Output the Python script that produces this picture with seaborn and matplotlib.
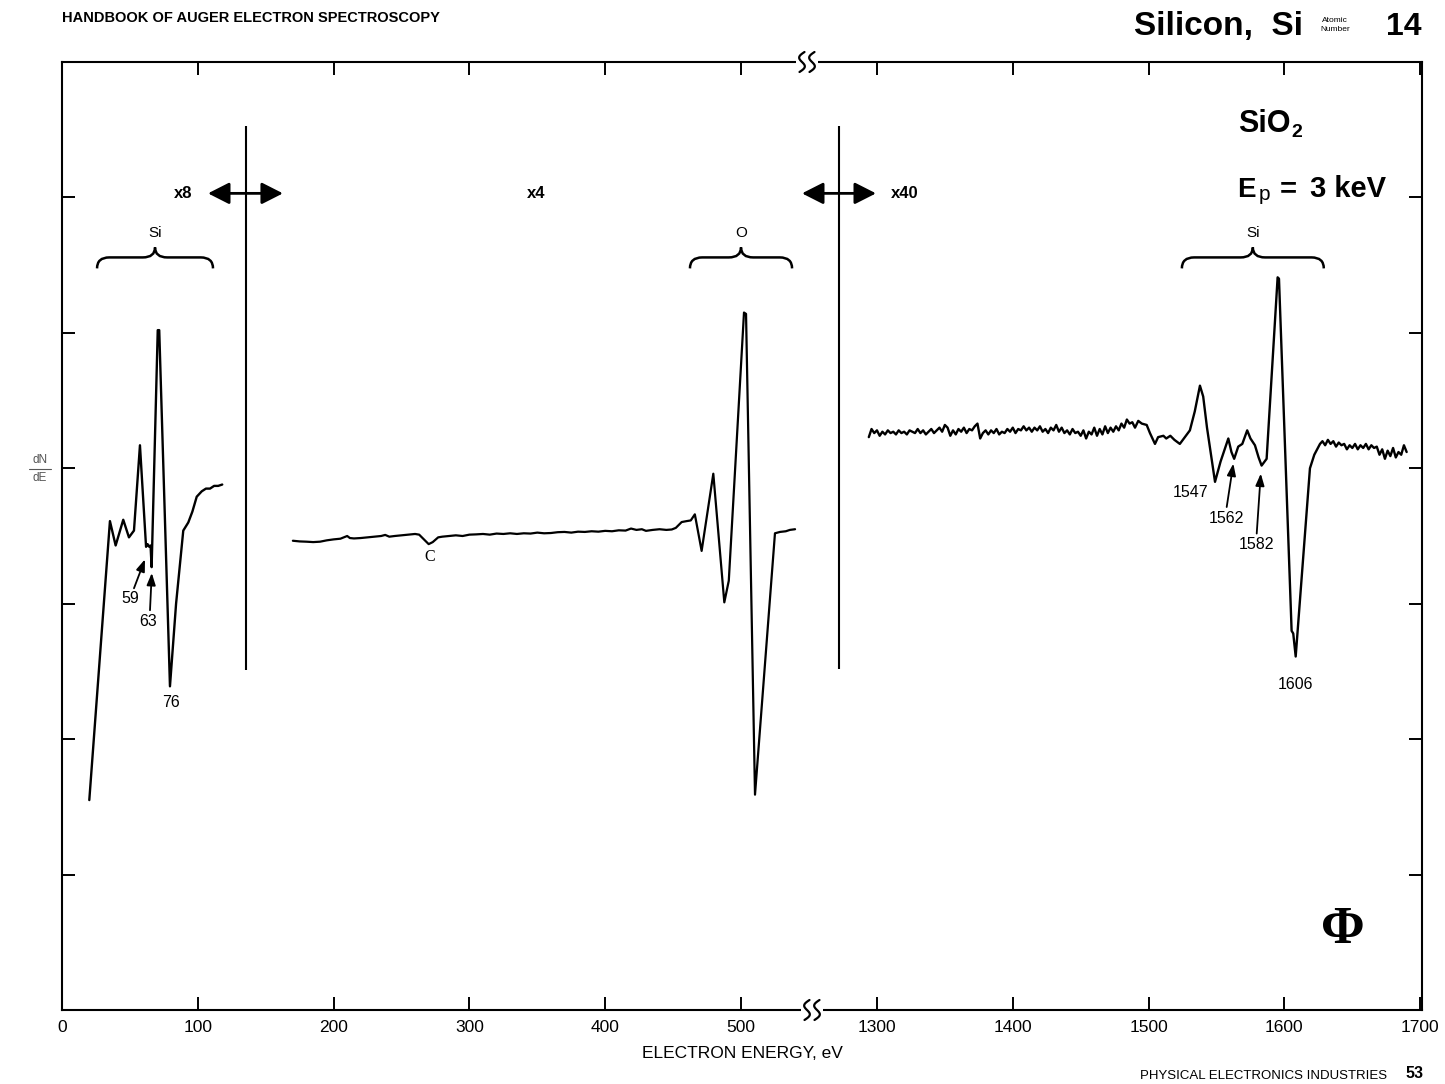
import numpy as np
import matplotlib
matplotlib.use("Agg")
import matplotlib.pyplot as plt
import seaborn as sns
from matplotlib.path import Path
from matplotlib.patches import PathPatch, FancyArrowPatch, Rectangle
from matplotlib.lines import Line2D

# Si LVV region (x8)
e_low = [20.1, 35.3, 39.5, 45.1, 49.3, 53.0, 57.4, 61.9, 63.0, 64.3, 65.2, 66.0,
         70.5, 71.6, 79.5, 84.0, 89.3, 93.0, 96.0, 99.2, 102.9, 106.0, 109.0,
         112.0, 115.0, 118.0]
v_low = [1.55, 3.61, 3.43, 3.62, 3.49, 3.54, 4.17, 3.42, 3.44, 3.42, 3.43, 3.27,
         5.02, 5.02, 2.39, 3.00, 3.54, 3.60, 3.68, 3.79, 3.83, 3.85, 3.85,
         3.87, 3.87, 3.88]

# C and O KLL region (x4)
e_mid = [170, 175, 180, 185, 190, 195, 200, 205, 210, 212, 215, 220, 225, 230,
         235, 238, 241, 245, 250, 255, 260, 263, 267, 270, 273, 277, 280, 285,
         290, 295, 300, 305, 310, 315, 320, 325, 330, 335, 340, 345, 350, 355,
         360, 365, 370, 375, 380, 385, 390, 395, 400, 405, 410, 415, 419, 423,
         427, 430, 435, 440, 445, 449, 452, 456.3, 460, 463, 466, 471, 479.6,
         487.7, 491, 502.2, 503.7, 510.3, 525, 528.7, 533, 536, 539.8]
v_mid = [3.465, 3.46, 3.458, 3.455, 3.458, 3.468, 3.475, 3.48, 3.50, 3.485,
         3.482, 3.485, 3.49, 3.495, 3.50, 3.508, 3.495, 3.50, 3.505, 3.51, 3.515,
         3.51, 3.47, 3.44, 3.455, 3.49, 3.495, 3.50, 3.505, 3.50, 3.51, 3.512,
         3.515, 3.51, 3.518, 3.515, 3.52, 3.515, 3.52, 3.518, 3.525, 3.52, 3.522,
         3.528, 3.53, 3.525, 3.532, 3.53, 3.535, 3.532, 3.538, 3.535, 3.542, 3.54,
         3.555, 3.545, 3.55, 3.538, 3.545, 3.55, 3.545, 3.548, 3.56, 3.603, 3.61,
         3.615, 3.66, 3.39, 3.96, 3.01, 3.17, 5.15, 5.14, 1.59, 3.52, 3.53, 3.535,
         3.545, 3.55]

# Si KLL region (x40): baseline read on a 2 eV grid, then the peaks
e_base = np.arange(1294, 1491, 2)
v_base = [4.23, 4.29, 4.26, 4.28, 4.24, 4.27, 4.25, 4.28, 4.26, 4.27,
          4.25, 4.28, 4.26, 4.27, 4.25, 4.28, 4.27, 4.26, 4.29, 4.26,
          4.28, 4.25, 4.27, 4.29, 4.26, 4.28, 4.30, 4.27, 4.32, 4.30,
          4.24, 4.28, 4.25, 4.29, 4.27, 4.30, 4.26, 4.29, 4.28, 4.31,
          4.33, 4.22, 4.26, 4.28, 4.25, 4.28, 4.26, 4.29, 4.25, 4.27,
          4.26, 4.29, 4.27, 4.30, 4.26, 4.29, 4.28, 4.31, 4.28, 4.30,
          4.27, 4.30, 4.28, 4.31, 4.27, 4.29, 4.26, 4.30, 4.28, 4.32,
          4.27, 4.30, 4.26, 4.28, 4.25, 4.29, 4.26, 4.27, 4.24, 4.28,
          4.22, 4.27, 4.25, 4.30, 4.24, 4.29, 4.25, 4.31, 4.26, 4.30,
          4.27, 4.31, 4.28, 4.33, 4.30, 4.36, 4.33, 4.34, 4.30]
e_kll = [1492.4, 1495, 1498.6, 1501, 1504.7, 1507, 1510.9, 1513, 1516, 1519,
         1523, 1526, 1530.4, 1534, 1537.8, 1540.2, 1543, 1548.9, 1553, 1558.7,
         1561, 1563, 1566, 1569, 1572.6, 1575, 1578.3, 1581, 1583.2, 1586.9,
         1595, 1596, 1605.3, 1606.5, 1608.3, 1618.8, 1622, 1626.2]
v_kll = [4.35, 4.33, 4.32, 4.26, 4.18, 4.23, 4.24, 4.22, 4.24, 4.21,
         4.18, 4.22, 4.28, 4.42, 4.61, 4.53, 4.30, 3.90, 4.05, 4.22,
         4.12, 4.07, 4.16, 4.18, 4.28, 4.22, 4.17, 4.08, 4.02, 4.07,
         5.41, 5.40, 2.80, 2.78, 2.61, 4.00, 4.10, 4.18]
e_tail = np.arange(1628, 1691, 2)
v_tail = [4.20, 4.17, 4.21, 4.18, 4.20, 4.16, 4.19, 4.17, 4.18, 4.14,
          4.17, 4.15, 4.18, 4.14, 4.17, 4.15, 4.18, 4.14, 4.17, 4.15,
          4.16, 4.10, 4.14, 4.07, 4.13, 4.09, 4.15, 4.08, 4.12, 4.10,
          4.17, 4.12]

e_high = np.concatenate([e_base, e_kll, e_tail])
v_high = np.concatenate([v_base, v_kll, v_tail])

low_ticks = [0, 100, 200, 300, 400, 500]
high_ticks = [1300, 1400, 1500, 1600, 1700]

sns.set_style("ticks", {"axes.edgecolor": "k", "xtick.color": "k",
                        "ytick.color": "k", "text.color": "k"})
plt.rcParams['font.family'] = ['Liberation Sans', 'DejaVu Sans']

W, H = 1445, 1084


def fx(px):
    return px / W


def fy(py):
    return 1 - py / H


fig = plt.figure(figsize=(W / 100, H / 100), dpi=100)
axL = fig.add_axes([fx(62), fy(1010), fx(810) - fx(62), fy(62) - fy(1010)])
axR = fig.add_axes([fx(810), fy(1010), fx(1422) - fx(810), fy(62) - fy(1010)])

sns.lineplot(x=e_low, y=v_low, ax=axL, color='k', lw=1.7, sort=False, estimator=None)
sns.lineplot(x=e_mid, y=v_mid, ax=axL, color='k', lw=1.6, sort=False, estimator=None)
sns.lineplot(x=e_high, y=v_high, ax=axR, color='k', lw=1.7, sort=False, estimator=None)

axL.set_xlim(0, 550.8)
axR.set_xlim(1250.7, 1701.3)
axL.set_xticks(low_ticks)
axR.set_xticks(high_ticks)
for ax in (axL, axR):
    ax.set_ylim(0, 7)
    ax.set_yticks([1, 2, 3, 4, 5, 6])
    ax.set_xlabel('')
    ax.set_ylabel('')
    ax.tick_params(direction='in', length=9.5, width=1.4, top=True,
                   labelsize=12.5, pad=7)
    for s in ax.spines.values():
        s.set_linewidth(1.5)
axL.spines['right'].set_visible(False)
axR.spines['left'].set_visible(False)
axL.tick_params(axis='y', left=True, right=False, labelleft=False)
axR.tick_params(axis='y', left=False, right=True, labelleft=False, labelright=False)

# gain change markers
axL.vlines(135.5, 2.51, 6.53, color='k', lw=1.5)
axR.vlines(1272, 2.52, 6.53, color='k', lw=1.5)
astyle = '<|-|>,head_length=0.65,head_width=0.33'
axL.add_patch(FancyArrowPatch((107.5, 6.03), (162.7, 6.03), arrowstyle=astyle,
                              mutation_scale=20, lw=2, color='k',
                              shrinkA=0, shrinkB=0))
axR.add_patch(FancyArrowPatch((1244.8, 6.03), (1299.3, 6.03), arrowstyle=astyle,
                              mutation_scale=20, lw=2, color='k',
                              shrinkA=0, shrinkB=0, clip_on=False))
axL.text(89, 6.03, 'x8', ha='center', va='center', fontsize=12, weight='bold')
axL.text(349, 6.03, 'x4', ha='center', va='center', fontsize=12, weight='bold')
axR.text(1320.6, 6.03, 'x40', ha='center', va='center', fontsize=12, weight='bold')


def brace(ax, x0, x1, label, y_end=5.476, y_flat=5.557, y_tip=5.631, r=9):
    xc = (x0 + x1) / 2
    verts = [(x0, y_end), (x0, y_flat), (x0 + r, y_flat),
             (xc - r, y_flat), (xc, y_flat), (xc, y_tip),
             (xc, y_flat), (xc + r, y_flat),
             (x1 - r, y_flat), (x1, y_flat), (x1, y_end)]
    codes = [Path.MOVETO, Path.CURVE3, Path.CURVE3,
             Path.LINETO, Path.CURVE3, Path.CURVE3,
             Path.CURVE3, Path.CURVE3,
             Path.LINETO, Path.CURVE3, Path.CURVE3]
    ax.add_patch(PathPatch(Path(verts, codes), fc='none', ec='k', lw=1.8,
                           clip_on=False))
    ax.text(xc, 5.734, label, ha='center', va='center', fontsize=11)


brace(axL, 25.8, 111.2, 'Si')
brace(axL, 462.4, 537.6, 'O')
brace(axR, 1524.5, 1629, 'Si')

# peak labels
aprops = dict(arrowstyle='-|>,head_length=0.6,head_width=0.22', color='k',
              lw=1.3, mutation_scale=12, shrinkA=0, shrinkB=0)
axL.text(50.1, 3.04, '59', ha='center', va='center', fontsize=11.5)
axL.annotate('', xy=(61.1, 3.328), xytext=(53.0, 3.114), arrowprops=aprops)
axL.text(63.3, 2.871, '63', ha='center', va='center', fontsize=11.5)
axL.annotate('', xy=(66.1, 3.227), xytext=(64.8, 2.952), arrowprops=aprops)
axL.text(80.3, 2.273, '76', ha='center', va='center', fontsize=11.5)
axL.text(271, 3.343, 'C', ha='center', va='center', fontsize=11.5,
         family=['Liberation Serif', 'DejaVu Serif'])
axR.text(1531.2, 3.823, '1547', ha='center', va='center', fontsize=11.5)
axR.text(1557, 3.631, '1562', ha='center', va='center', fontsize=11.5)
axR.annotate('', xy=(1562.4, 4.035), xytext=(1557.5, 3.714), arrowprops=aprops)
axR.text(1579.1, 3.439, '1582', ha='center', va='center', fontsize=11.5)
axR.annotate('', xy=(1582.6, 3.961), xytext=(1579.6, 3.518), arrowprops=aprops)
axR.text(1607.8, 2.406, '1606', ha='center', va='center', fontsize=11.5)

# axis break symbols
for bx, by in [(807, 62), (812, 1010)]:
    fig.add_artist(Rectangle((fx(bx - 11), fy(by + 4)), 22 / W, 8 / H,
                             transform=fig.transFigure, fc='white', ec='none',
                             zorder=5))
    t = np.linspace(0, 1, 40)
    for off in (-5, 5):
        xs = bx + off - 4 * np.sin(2 * np.pi * t) + (0.5 - t) * 5
        ys = by - 10 + 20 * t
        fig.add_artist(Line2D(fx(xs), fy(ys), color='k', lw=1.6,
                              transform=fig.transFigure, zorder=6))

# texts around the frame
fig.text(fx(742), fy(1053), 'ELECTRON ENERGY, eV', ha='center', va='center',
         fontsize=12.5)
fig.text(fx(40), fy(460), 'dN', ha='center', va='center', fontsize=8.5,
         color='#555555')
fig.add_artist(Line2D([fx(29), fx(51)], [fy(469), fy(469)], color='#555555',
                      lw=0.8, transform=fig.transFigure))
fig.text(fx(40), fy(478), 'dE', ha='center', va='center', fontsize=8.5,
         color='#555555')

fig.text(fx(62), fy(18), 'HANDBOOK OF AUGER ELECTRON SPECTROSCOPY', ha='left',
         va='center', fontsize=10.5, weight='bold')
fig.text(fx(1303), fy(35), 'Silicon,  Si', ha='right', va='baseline',
         fontsize=24, weight='bold')
fig.text(fx(1335), fy(20), 'Atomic', ha='center', va='center', fontsize=6)
fig.text(fx(1335), fy(29.5), 'Number', ha='center', va='center', fontsize=6)
fig.text(fx(1422), fy(35), '14', ha='right', va='baseline', fontsize=23,
         weight='bold')

fig.text(fx(1238), fy(132), 'SiO', ha='left', va='baseline', fontsize=22,
         weight='bold')
fig.text(fx(1291), fy(137), '2', ha='left', va='baseline', fontsize=14,
         weight='bold')
fig.text(fx(1237), fy(197), 'E', ha='left', va='baseline', fontsize=20,
         weight='bold')
fig.text(fx(1259), fy(200), 'p', ha='left', va='baseline', fontsize=15)
fig.text(fx(1280), fy(197), '=', ha='left', va='baseline', fontsize=21,
         weight='bold')
fig.text(fx(1310), fy(197), '3 keV', ha='left', va='baseline', fontsize=21,
         weight='bold')

fig.text(fx(1343), fy(930), '\u03a6', ha='center', va='center', fontsize=38,
         weight='bold', family=['Liberation Serif', 'DejaVu Serif'])

fig.text(fx(1387), fy(1076), 'PHYSICAL ELECTRONICS INDUSTRIES', ha='right',
         va='center', fontsize=9.5)
fig.text(fx(1423), fy(1074), '53', ha='right', va='center', fontsize=11.5,
         weight='bold')

fig.savefig('out.png', dpi=100, facecolor='white')
